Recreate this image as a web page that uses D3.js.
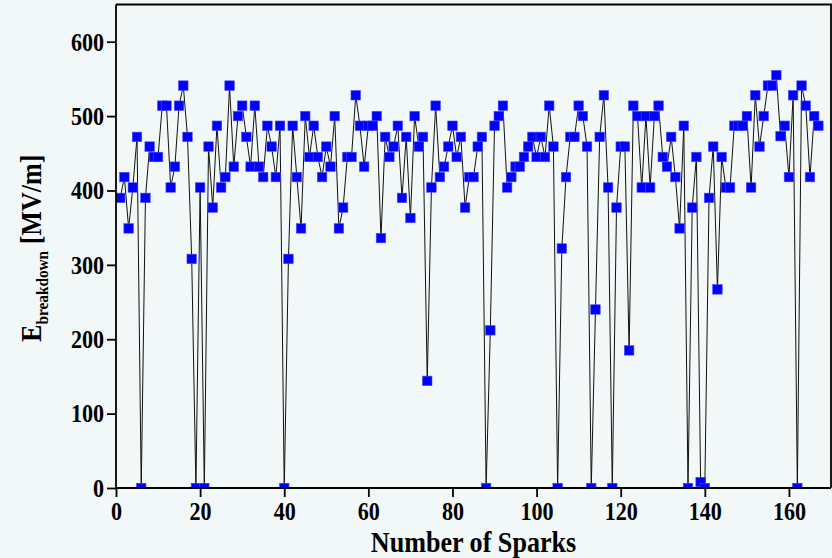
<!DOCTYPE html>
<html>
<head>
<meta charset="utf-8">
<script src="https://cdn.jsdelivr.net/npm/d3@7"></script>
<style>
  html, body { margin: 0; padding: 0; background: #f2f7f7; }
  svg { display: block; }
  text { font-family: "Liberation Serif", "Times New Roman", serif; font-weight: bold; fill: #000; }
</style>
</head>
<body>
<div id="chart"></div>
<script>
// E breakdown per spark (MV/m), spark number = index + 1
const breakdown = [
  390, 418, 349, 404, 472, 0, 390, 459, 445, 445,
  514, 514, 404, 432, 514, 541, 472, 308, 0, 404,
  0, 459, 377, 487, 404, 418, 541, 432, 500, 514,
  472, 432, 514, 432, 418, 487, 459, 418, 487, 0,
  308, 487, 418, 349, 500, 445, 487, 445, 418, 459,
  432, 500, 349, 377, 445, 445, 528, 487, 432, 487,
  487, 500, 336, 472, 445, 459, 487, 390, 472, 363,
  500, 459, 472, 144, 404, 514, 418, 432, 459, 487,
  445, 472, 377, 418, 418, 459, 472, 0, 212, 487,
  500, 514, 404, 418, 432, 432, 445, 459, 472, 445,
  472, 445, 514, 459, 0, 322, 418, 472, 472, 514,
  500, 459, 0, 240, 472, 528, 404, 0, 377, 459,
  459, 185, 514, 500, 404, 500, 404, 500, 514, 445,
  432, 472, 418, 349, 487, 0, 377, 445, 8, 0,
  390, 459, 267, 445, 404, 404, 487, 487, 487, 500,
  404, 528, 459, 500, 541, 541, 555, 473, 487, 418,
  528, 0, 541, 514, 418, 500, 487
];
const xTicks = [0, 20, 40, 60, 80, 100, 120, 140, 160];
const yTicks = [0, 100, 200, 300, 400, 500, 600];

const points = breakdown.map((v, i) => ({ spark: i + 1, e: v }));

const width = 832, height = 558;
const margin = { left: 116, right: 1, top: 4.5, bottom: 70 };
const squeeze = 0.85; // the source font looks narrow

const svg = d3.select("#chart").append("svg")
    .attr("width", width)
    .attr("height", height);

const x = d3.scaleLinear().domain([0, 170]).range([margin.left, width - margin.right]);
const y = d3.scaleLinear().domain([0, 650]).range([height - margin.bottom, margin.top]);

// clip to the frame, like Origin does
svg.append("clipPath").attr("id", "plotclip")
  .append("rect")
    .attr("x", x(0)).attr("y", y(650))
    .attr("width", x(170) - x(0)).attr("height", y(0) - y(650));

const plot = svg.append("g").attr("clip-path", "url(#plotclip)");

const line = d3.line().x(d => x(d.spark)).y(d => y(d.e));

plot.append("path")
    .datum(points)
    .attr("d", line)
    .attr("fill", "none")
    .attr("stroke", "#111")
    .attr("stroke-width", 1);

const ms = 9.5;
plot.selectAll("rect.pt")
  .data(points)
  .enter().append("rect")
    .attr("class", "pt")
    .attr("x", d => x(d.spark) - ms / 2)
    .attr("y", d => y(d.e) - ms / 2)
    .attr("width", ms)
    .attr("height", ms)
    .attr("fill", "#0000ff")
    .attr("stroke", "#4a4aff")
    .attr("stroke-width", 0.6);

// frame (top and right)
svg.append("path")
    .attr("d", `M${x(0)},${y(650)}H${x(170)}V${y(0)}`)
    .attr("fill", "none")
    .attr("stroke", "#000")
    .attr("stroke-width", 1.8);

// x axis
const xAxis = svg.append("g").attr("transform", `translate(0,${y(0)})`);
xAxis.call(d3.axisBottom(x).tickValues(d3.range(10, 170, 20)).tickSize(5).tickFormat(""));
xAxis.call(d3.axisBottom(x).tickValues(xTicks).tickSize(9).tickFormat(d3.format("d")));
xAxis.selectAll(".domain").attr("stroke-width", 1.8).attr("d", `M${x(0)},0H${x(170)}`);
xAxis.selectAll(".tick line").attr("stroke-width", 1.8);
xAxis.selectAll("text")
    .attr("font-size", 26)
    .attr("font-family", "Liberation Serif")
    .attr("font-weight", "bold")
    .attr("y", 14)
    .attr("transform", `scale(${squeeze},1)`);

// y axis
const yAxis = svg.append("g").attr("transform", `translate(${x(0)},0)`);
yAxis.call(d3.axisLeft(y).tickValues(d3.range(50, 650, 100)).tickSize(5).tickFormat(""));
yAxis.call(d3.axisLeft(y).tickValues(yTicks).tickSize(9).tickFormat(d3.format("d")));
yAxis.selectAll(".domain").attr("stroke-width", 1.8).attr("d", `M0,${y(0)}V${y(650)}`);
yAxis.selectAll(".tick line").attr("stroke-width", 1.8);
yAxis.selectAll("text")
    .attr("font-size", 26)
    .attr("font-family", "Liberation Serif")
    .attr("font-weight", "bold")
    .attr("x", -12 / squeeze)
    .attr("transform", `scale(${squeeze},1)`);

// axis titles
svg.append("text")
    .attr("transform", `translate(${(x(0) + x(170)) / 2},552) scale(0.9,1)`)
    .attr("text-anchor", "middle")
    .attr("font-size", 29)
    .text("Number of Sparks");

const yt = svg.append("text")
    .attr("transform", `translate(41,${(y(0) + y(650)) / 2 + 2}) rotate(-90) scale(0.9,1)`)
    .attr("text-anchor", "middle")
    .attr("font-size", 29);
yt.append("tspan").text("E");
yt.append("tspan").attr("font-size", 17).attr("dy", 7).text("breakdown");
yt.append("tspan").attr("dy", -7).text(" [MV/m]");
</script>
</body>
</html>
